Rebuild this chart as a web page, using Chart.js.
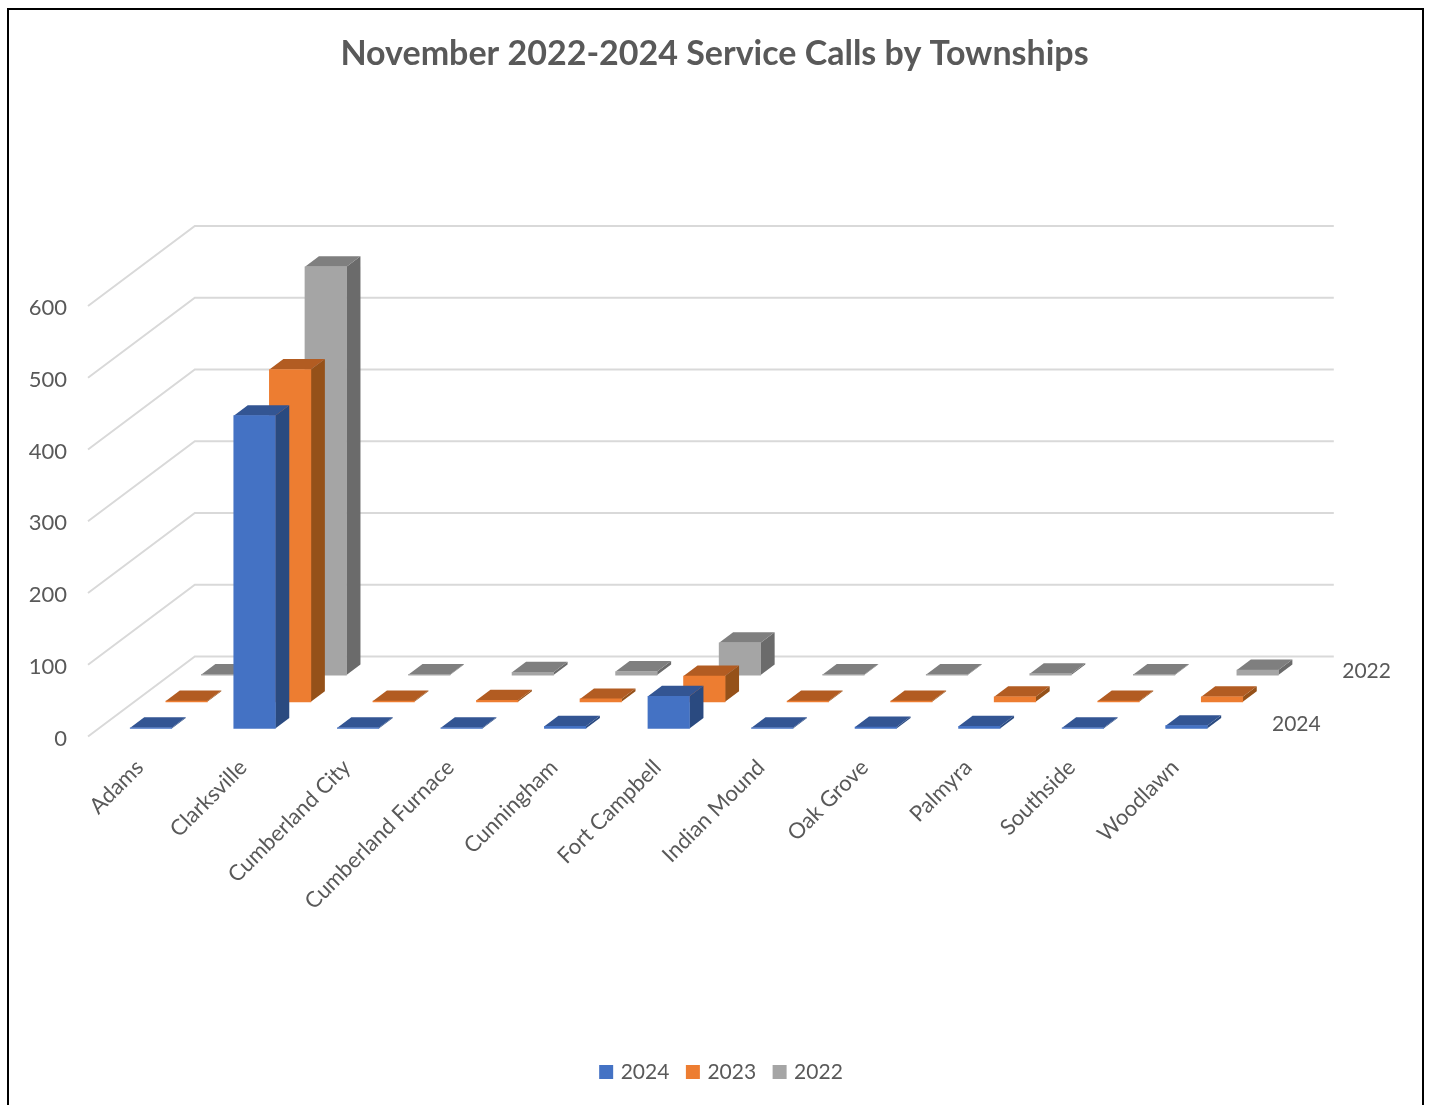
<!DOCTYPE html>
<html>
<head>
<meta charset="utf-8">
<title>November 2022-2024 Service Calls by Townships</title>
<script src="https://cdn.jsdelivr.net/npm/chart.js@4"></script>
<style>
  html, body { margin: 0; height: 100%; overflow: hidden; background: #fff; }
  #frame { position: absolute; left: 7px; top: 8px; width: 1413px; height: 1200px; border: 2px solid #000; }
  #myChart { position: absolute; left: 0; top: 0; }
</style>
</head>
<body>
<div id="frame"></div>
<canvas id="myChart" width="1429" height="1105"></canvas>
<script>
const townships = ["Adams", "Clarksville", "Cumberland City", "Cumberland Furnace", "Cunningham",
  "Fort Campbell", "Indian Mound", "Oak Grove", "Palmyra", "Southside", "Woodlawn"];
const seriesNames = ["2024", "2023", "2022"];
const calls2024 = [1, 436, 1, 1, 3, 45, 1, 2, 3, 1, 4];
const calls2023 = [1, 463, 1, 2, 4, 36, 1, 1, 7, 1, 7];
const calls2022 = [1, 569, 1, 4, 5, 45, 1, 1, 2, 1, 7];
const yTickStep = 100;
const yMax = 600;

const frontColors = ["#4472C4", "#ED7D31", "#A5A5A5"];
const topColors = ["#335593", "#B25C22", "#7F7F7F"];
const sideColors = ["#2A4A80", "#955119", "#6B6B6B"];

// fake 3d: each series sits one row further back on the floor
const rowX = 35.6, rowY = 26.7;
const gapX = 11.2, gapY = 8;
const barDepthX = 14, barDepthY = 10.5;
const textColor = "#595959";
const fontName = "Lato, Carlito, sans-serif";

const poly = (ctx, color, pts) => {
  ctx.fillStyle = color;
  ctx.beginPath();
  pts.forEach((p, i) => (i ? ctx.lineTo(p[0], p[1]) : ctx.moveTo(p[0], p[1])));
  ctx.closePath();
  ctx.fill();
};

const fake3d = {
  id: "fake3d",
  afterLayout(chart) {
    // legend sits a little right of the title in the original
    chart.legend.left += 8;
    chart.legend.right += 8;
  },
  beforeDatasetsDraw(chart) {
    const { ctx, chartArea, scales } = chart;
    const backX = rowX * seriesNames.length;
    const backY = rowY * seriesNames.length;
    ctx.save();
    ctx.strokeStyle = "#D9D9D9";
    ctx.lineWidth = 2;
    scales.y.ticks.forEach((t) => {
      const py = scales.y.getPixelForValue(t.value);
      ctx.beginPath();
      ctx.moveTo(chartArea.left, py);
      ctx.lineTo(chartArea.left + backX, py - backY);
      ctx.lineTo(chartArea.right + backX, py - backY);
      ctx.stroke();
    });
    ctx.restore();
  },
  beforeDatasetDraw(chart, args) {
    const { ctx } = chart;
    const i = args.index;
    ctx.save();
    ctx.translate(gapX + rowX * i, -(gapY + rowY * i));
    args.meta.data.forEach((bar) => {
      const l = bar.x - bar.width / 2;
      const r = bar.x + bar.width / 2;
      const t = bar.y;
      const b = bar.base;
      poly(ctx, sideColors[i], [[r, t], [r + barDepthX, t - barDepthY], [r + barDepthX, b - barDepthY], [r, b]]);
      poly(ctx, topColors[i], [[l, t], [l + barDepthX, t - barDepthY], [r + barDepthX, t - barDepthY], [r, t]]);
    });
  },
  afterDatasetDraw(chart) {
    chart.ctx.restore();
  },
  afterDraw(chart) {
    // depth axis, excel skips every other label
    const { ctx, chartArea } = chart;
    ctx.save();
    ctx.font = "21px " + fontName;
    ctx.fillStyle = textColor;
    ctx.textBaseline = "middle";
    seriesNames.forEach((name, i) => {
      if (i % 2) return;
      ctx.fillText(name, chartArea.right + 45 + rowX * i - i / 2, chartArea.bottom - 12 - rowY * i);
    });
    ctx.restore();
  },
};

const allCalls = [calls2024, calls2023, calls2022];

new Chart(document.getElementById("myChart"), {
  type: "bar",
  plugins: [fake3d],
  data: {
    labels: townships,
    datasets: seriesNames.map((name, i) => ({
      label: name,
      data: allCalls[i],
      backgroundColor: frontColors[i],
      borderWidth: 0,
      barThickness: 41.5,
      grouped: false,
      clip: false,
    })),
  },
  options: {
    responsive: false,
    animation: false,
    layout: { autoPadding: false, padding: { left: 0, right: 0, top: 0, bottom: 12.5 } },
    plugins: {
      title: {
        display: true,
        text: "November 2022-2024 Service Calls by Townships",
        color: textColor,
        font: { family: fontName, size: 34, weight: "bold" },
        padding: { top: 34, bottom: 231.2 },
      },
      legend: {
        position: "bottom",
        labels: {
          color: textColor,
          font: { family: fontName, size: 21 },
          // small box with a thick outline, keeps the text close to the swatch
          boxWidth: 8,
          boxHeight: 8,
          padding: 19.5,
          generateLabels(chart) {
            return Chart.defaults.plugins.legend.labels.generateLabels(chart).map((item) => ({
              ...item,
              strokeStyle: item.fillStyle,
              lineWidth: 6,
            }));
          },
        },
      },
      tooltip: { enabled: false },
    },
    scales: {
      x: {
        grid: { display: false },
        border: { display: false },
        afterFit(scale) { scale.height = 305.5; },
        ticks: {
          color: textColor,
          font: { family: fontName, size: 22 },
          autoSkip: false,
          minRotation: 45,
          maxRotation: 45,
          padding: 10,
        },
      },
      y: {
        min: 0,
        max: yMax,
        grid: { display: false },
        border: { display: false },
        afterFit(scale) { scale.width = 88; },
        ticks: {
          stepSize: yTickStep,
          color: textColor,
          font: { family: fontName, size: 22 },
          padding: 13,
          labelOffset: 2,
        },
      },
      // empty axis, only keeps room for the depth of the floor on the right
      depth: {
        position: "right",
        grid: { display: false },
        border: { display: false },
        ticks: { display: false },
        afterFit(scale) { scale.width = 202; },
      },
    },
  },
});
</script>
</body>
</html>
